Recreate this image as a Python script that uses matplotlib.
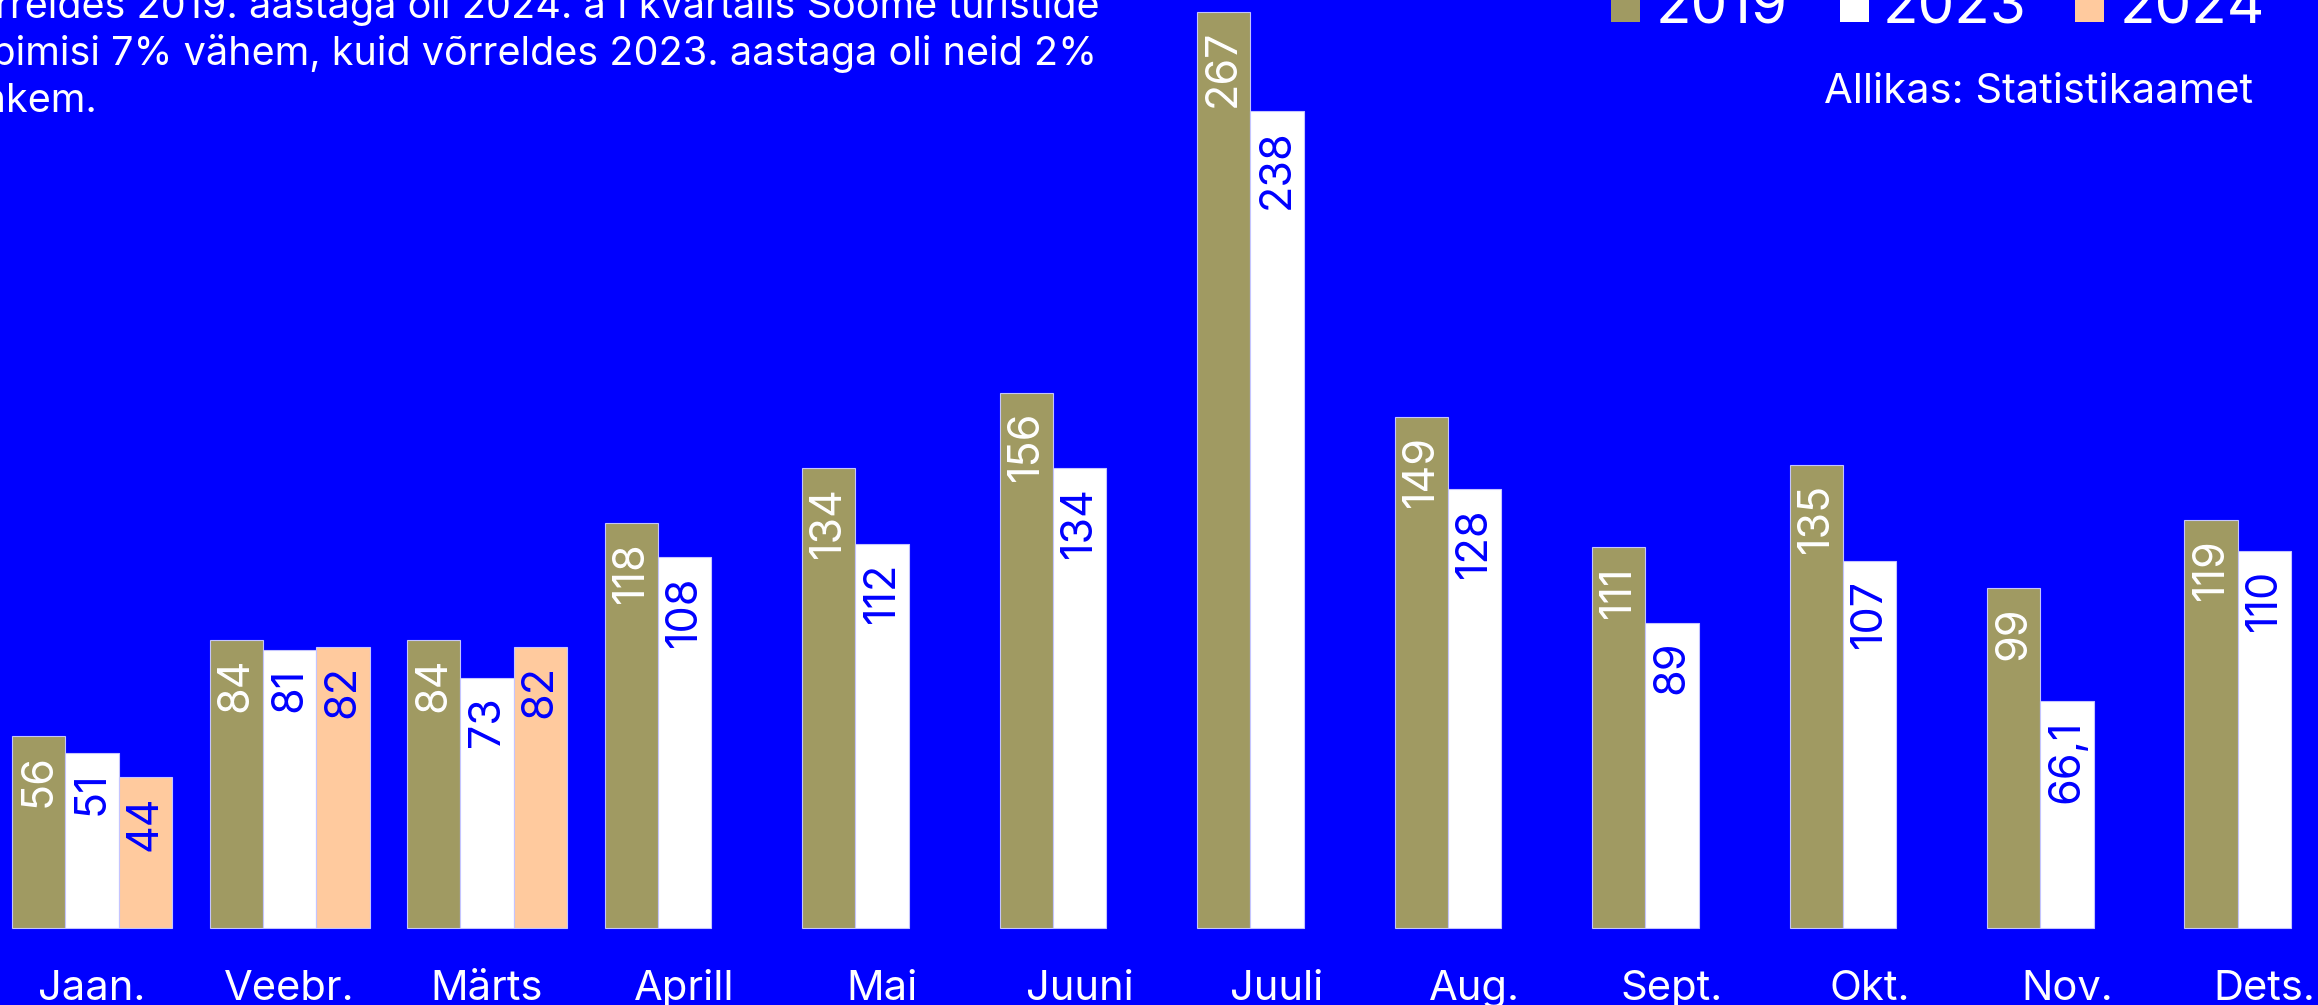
import matplotlib.pyplot as plt
from matplotlib.patches import Rectangle

# Soome turistide ööbimised kuude kaupa (tuh)
months = ['Jaan.', 'Veebr.', 'Märts', 'Aprill', 'Mai', 'Juuni',
          'Juuli', 'Aug.', 'Sept.', 'Okt.', 'Nov.', 'Dets.']
v2019 = [56, 84, 84, 118, 134, 156, 267, 149, 111, 135, 99, 119]
v2023 = [51, 81, 73, 108, 112, 134, 238, 128, 89, 107, 66.1, 110]
v2024 = [44, 82, 82]
years = ['2019', '2023', '2024']

intro = ['Võrreldes 2019. aastaga oli 2024. a I kvartalis Soome turistide',
         'ööbimisi 7% vähem, kuid võrreldes 2023. aastaga oli neid 2%',
         'rohkem.']
source = 'Allikas: Statistikaamet'

BLUE = '#0000ff'
colors = ['#a09a62', '#ffffff', '#ffca9e']
label_colors = ['white', BLUE, BLUE]
FONT = 'Inter'

W, H = 2318, 1005
fig = plt.figure(figsize=(W / 100, H / 100), dpi=100)
fig.patch.set_facecolor(BLUE)
ax = fig.add_axes([0, 0, 1, 1])
ax.set_facecolor(BLUE)
ax.set_axis_off()


def fx(px):
    return px / W


def fy(py):
    return 1 - py / H


bw = 0.27
series = [v2019, v2023, v2024]
for k, vals in enumerate(series):
    xs = [i + (k - 1) * bw for i in range(len(vals))]
    bars = ax.bar(xs, vals, width=bw, color=colors[k],
                  edgecolor='#c4c4ff', linewidth=0.8)
    for b, v in zip(bars, vals):
        txt = f'{v:g}'.replace('.', ',')
        ax.annotate(txt, (b.get_x() + b.get_width() / 2, v),
                    xytext=(0, -13), textcoords='offset points',
                    rotation=90, ha='center', va='top',
                    color=label_colors[k], fontsize=31, family=FONT)

for i, m in enumerate(months):
    ax.text(i, -21, m, ha='center', va='baseline', color='white',
            fontsize=30, family=FONT)

ax.set_xlim(-0.466, 11.271)
ax.set_ylim(-22.44, 270.5)

# sissejuhatav tekst (vasakult lõigatud nagu originaalis)
for j, line in enumerate(intro):
    fig.text(fx(-56), fy(18 + 47 * j), line, ha='left', va='baseline',
             color='white', fontsize=28.5, family=FONT)

# legend
sq_x = [1611, 1840, 2075]
txt_x = [1656, 1883, 2120]
for k, y in enumerate(years):
    fig.patches.append(Rectangle((fx(sq_x[k]), fy(22)), 29 / W, 30 / H,
                                 transform=fig.transFigure,
                                 facecolor=colors[k], edgecolor='none'))
    fig.text(fx(txt_x[k]), fy(24), y, ha='left', va='baseline',
             color='white', fontsize=42, family=FONT)

fig.text(fx(2253), fy(103), source, ha='right', va='baseline',
         color='white', fontsize=30, family=FONT)

fig.savefig('out.png', dpi=100, facecolor=BLUE)
